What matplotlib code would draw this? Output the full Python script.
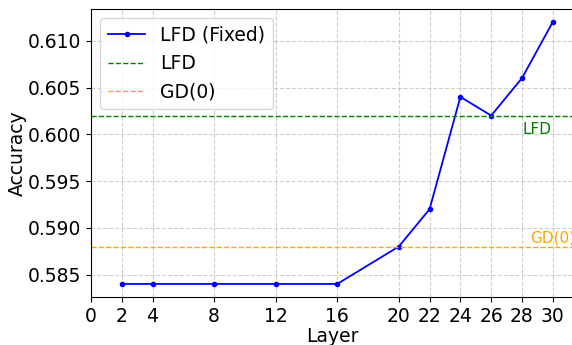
import matplotlib
matplotlib.use("Agg")
import matplotlib.pyplot as plt

# accuracy per layer with the fixed LFD setting
layers = [2, 4, 8, 12, 16, 20, 22, 24, 26, 28, 30]
acc_fixed = [0.584, 0.584, 0.584, 0.584, 0.584, 0.588, 0.592, 0.604, 0.602, 0.606, 0.612]
xticks = [0, 2, 4, 8, 12, 16, 20, 22, 24, 26, 28, 30]

# baselines
lfd_acc = 0.602
gd0_acc = 0.588

FS = 13.5

fig = plt.figure(figsize=(5.72, 3.45), dpi=100)
ax = fig.add_axes([0.159, 0.139, 0.845, 0.835])

ax.plot(layers, acc_fixed, color='blue', marker='.', markersize=6, linewidth=1.3,
        label='LFD (Fixed)')
ax.axhline(lfd_acc, color='green', linestyle='--', linewidth=1.0, label='LFD')
ax.axhline(gd0_acc, color='orange', linestyle='--', linewidth=1.0, label='GD(0)')

ax.text(29.0, lfd_acc - 0.0015, 'LFD', color='green', fontsize=11,
        ha='center', va='center')
ax.text(28.56, gd0_acc + 0.0004, 'GD(0)', color='orange', fontsize=11,
        ha='left', va='baseline', clip_on=True)

ax.set_xlim(0, 31.4)
ax.set_ylim(0.5826, 0.6134)
ax.set_xticks(xticks)
ax.set_yticks([0.585, 0.590, 0.595, 0.600, 0.605, 0.610])
ax.tick_params(labelsize=FS)
ax.set_xlabel('Layer', fontsize=FS, labelpad=1)
ax.set_ylabel('Accuracy', fontsize=FS, labelpad=1)
ax.grid(True, linestyle='--', alpha=0.6)
ax.legend(loc='upper left', fontsize=FS)

fig.savefig('out.png', dpi=100)
